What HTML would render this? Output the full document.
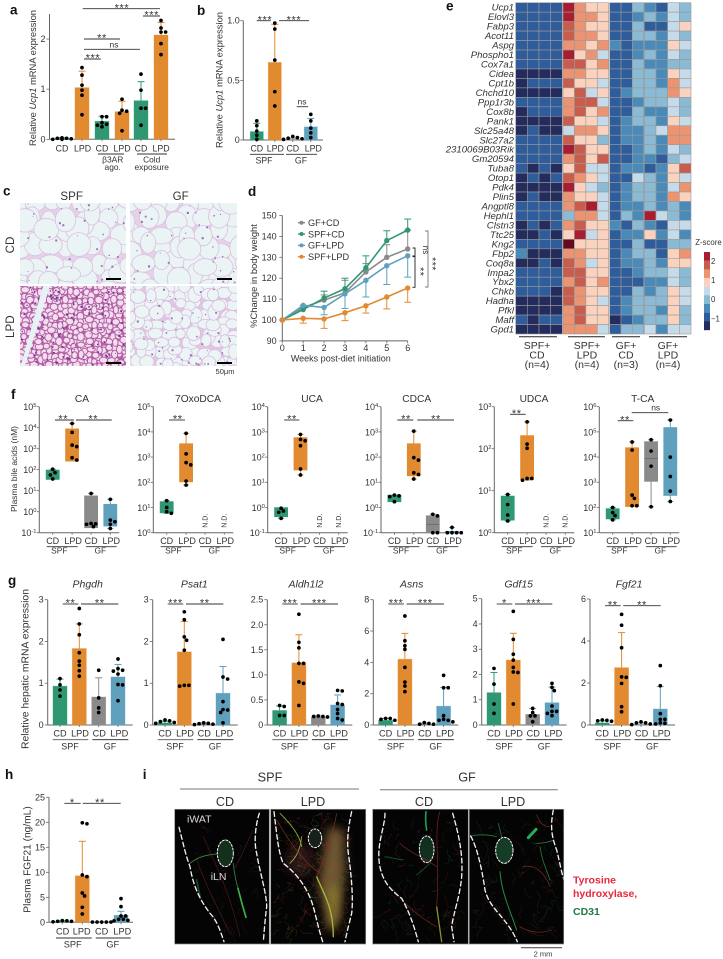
<!DOCTYPE html>
<html lang="en">
<head>
<meta charset="utf-8">
<title>Multi-panel figure: LPD, microbiota and Ucp1 expression</title>
<style>
html,body{margin:0;padding:0;background:#fff;width:723px;height:959px;overflow:hidden}
svg{display:block;font-family:"Liberation Sans",sans-serif}
text{fill:#333}
</style>
</head>
<body>
<svg id="figure" xmlns="http://www.w3.org/2000/svg" width="723" height="959" viewBox="0 0 723 959">
<defs>
<filter id="glow" x="-60%" y="-60%" width="220%" height="220%"><feGaussianBlur stdDeviation="14"/></filter>
<filter id="soft" x="-20%" y="-20%" width="140%" height="140%"><feGaussianBlur stdDeviation="0.35"/></filter>
<clipPath id="clip-i1"><rect x="174.7" y="809.3" width="94.6" height="134.7"/></clipPath>
<clipPath id="clip-i2"><rect x="270.7" y="809.3" width="95" height="134.7"/></clipPath>
<clipPath id="clip-i3"><rect x="372.7" y="809.3" width="95.6" height="134.7"/></clipPath>
<clipPath id="clip-i4"><rect x="469.3" y="809.3" width="94.4" height="134.7"/></clipPath>
<clipPath id="clip-c1"><rect x="20" y="203" width="106" height="81"/></clipPath>
<clipPath id="clip-c2"><rect x="130" y="203" width="107" height="81"/></clipPath>
<clipPath id="clip-c3"><rect x="20" y="286" width="106" height="80"/></clipPath>
<clipPath id="clip-c4"><rect x="130" y="286" width="107" height="80"/></clipPath>
</defs>
<rect width="723" height="959" fill="#fff"/>

<g id="panel-i">
  <g clip-path="url(#clip-i1)">
    <rect x="174.7" y="809.3" width="94.6" height="134.7" fill="#050404"/>
    <g transform="translate(0,720) scale(.33333)" fill="none" stroke-linecap="round">
      <g id="traces-1"></g>
      <ellipse cx="676" cy="400" rx="24" ry="40" fill="#14301c" stroke="none"/>
      <path d="M570,430Q600,405 650,402" stroke="#3f9c48" stroke-width="2.5"/>
      <path d="M700,430Q705,480 716,510" stroke="#2e8a40" stroke-width="2.5"/>
      <path d="M714,505Q725,550 738,592" stroke="#3fb048" stroke-width="5"/>
      <path d="M590,480L600,530" stroke="#184a28" stroke-width="5"/>
      <path d="M610,350C650,440 690,520 720,650M760,330C730,390 720,420 700,450M590,420C620,500 650,560 690,640" stroke="#5e2020" stroke-width="1.6"/>
      <path d="M537,322C550,370 555,400 570,440C580,500 600,540 630,580C650,600 660,630 672,665" stroke="#f2f2f2" stroke-width="4" stroke-dasharray="14 9"/>
      <path d="M778,280C765,320 762,370 770,400C780,460 800,520 800,560C795,600 792,640 790,665" stroke="#f2f2f2" stroke-width="4" stroke-dasharray="14 9"/>
      <ellipse cx="676" cy="400" rx="24" ry="40" stroke="#f5f5f5" stroke-width="3" stroke-dasharray="6 5"/>
    </g>
  </g>
  <g clip-path="url(#clip-i2)">
    <rect x="270.7" y="809.3" width="95" height="134.7" fill="#050404"/>
    <g transform="translate(0,720) scale(.33333)" fill="none" stroke-linecap="round">
      <path d="M985,320L1030,330L1035,450L1020,590L992,640L955,500L970,400Z" fill="#6e5632" filter="url(#glow)"/>
      <path d="M985,500L1015,500L1008,610L992,630Z" fill="#8a7c2c" filter="url(#glow)"/>
      <ellipse cx="900" cy="420" rx="40" ry="50" fill="#2a1414" filter="url(#glow)"/>
      <g id="traces-2"></g>
      <ellipse cx="945" cy="355" rx="20" ry="28" fill="#18201a" stroke="none"/>
      <path d="M840,280C880,320 900,350 905,380M905,350C900,400 880,420 870,430" stroke="#8eb040" stroke-width="2.5"/>
      <path d="M950,470C970,520 1000,560 1000,650" stroke="#a8b83c" stroke-width="4"/>
      <path d="M830,300C860,350 900,420 960,460M1010,280C1000,340 980,400 950,470" stroke="#8a3224" stroke-width="1.8"/>
      <path d="M822,275C830,340 835,400 850,430C890,460 930,510 945,580C955,620 960,640 968,665" stroke="#f2f2f2" stroke-width="4" stroke-dasharray="14 9"/>
      <path d="M1055,275C1045,320 1040,360 1045,400C1055,470 1060,540 1055,580C1045,620 1040,640 1035,665" stroke="#f2f2f2" stroke-width="4" stroke-dasharray="14 9"/>
      <ellipse cx="945" cy="355" rx="20" ry="28" stroke="#f5f5f5" stroke-width="3" stroke-dasharray="6 5"/>
    </g>
  </g>
  <g clip-path="url(#clip-i3)">
    <rect x="372.7" y="809.3" width="95.6" height="134.7" fill="#050404"/>
    <g transform="translate(360,720) scale(.33333)" fill="none" stroke-linecap="round">
      <g id="traces-3"></g>
      <ellipse cx="200" cy="388" rx="22" ry="40" fill="#123020" stroke="none"/>
      <path d="M198,275Q195,300 200,330" stroke="#1f9a50" stroke-width="5"/>
      <path d="M230,560Q240,630 245,665" stroke="#8a9030" stroke-width="4"/>
      <path d="M240,275C220,330 240,420 230,560M120,370C150,400 190,410 230,440M100,510C140,560 190,600 230,620" stroke="#7a2424" stroke-width="2"/>
      <path d="M75,410L130,420M170,465L210,430" stroke="#1e6a38" stroke-width="2"/>
      <path d="M75,280C75,320 50,370 58,430C65,480 90,510 125,535C145,570 160,610 175,665" stroke="#f2f2f2" stroke-width="4" stroke-dasharray="14 9"/>
      <path d="M278,280C295,340 310,400 305,470C300,530 280,580 275,620L282,665" stroke="#f2f2f2" stroke-width="4" stroke-dasharray="14 9"/>
      <ellipse cx="200" cy="388" rx="22" ry="40" stroke="#f5f5f5" stroke-width="3" stroke-dasharray="6 5"/>
    </g>
  </g>
  <g clip-path="url(#clip-i4)">
    <rect x="469.3" y="809.3" width="94.4" height="134.7" fill="#050404"/>
    <g transform="translate(360,720) scale(.33333)" fill="none" stroke-linecap="round">
      <g id="traces-4"></g>
      <ellipse cx="433" cy="391" rx="26" ry="39" fill="#143c26" stroke="none"/>
      <path d="M420,455C425,520 450,570 470,630" stroke="#2a8a48" stroke-width="3"/>
      <path d="M505,353L528,328" stroke="#22b058" stroke-width="9"/>
      <path d="M335,348Q370,340 410,350M415,310L425,350M530,370Q560,370 580,360M540,380C545,420 560,450 570,480" stroke="#267a42" stroke-width="2.4"/>
      <path d="M530,285C540,310 550,320 570,320M490,440C530,430 560,470 570,500M480,620C510,640 550,640 575,630" stroke="#7a2c24" stroke-width="2"/>
      <path d="M332,348C350,380 365,440 375,510C390,570 440,590 472,665" stroke="#f2f2f2" stroke-width="4" stroke-dasharray="14 9"/>
      <path d="M580,270C570,320 575,350 590,390C600,430 605,460 612,480" stroke="#f2f2f2" stroke-width="4" stroke-dasharray="14 9"/>
      <ellipse cx="433" cy="391" rx="26" ry="39" stroke="#f5f5f5" stroke-width="3" stroke-dasharray="6 5"/>
    </g>
  </g>
  <rect x="174.7" y="809.3" width="94.6" height="134.7" fill="none" stroke="#888" stroke-width=".7"/>
  <rect x="270.7" y="809.3" width="95" height="134.7" fill="none" stroke="#888" stroke-width=".7"/>
  <rect x="372.7" y="809.3" width="95.6" height="134.7" fill="none" stroke="#888" stroke-width=".7"/>
  <rect x="469.3" y="809.3" width="94.4" height="134.7" fill="none" stroke="#888" stroke-width=".7"/>
  <text x="187" y="822.7" font-size="10.5" style="fill:#ddd">iWAT</text>
  <text x="210.7" y="880" font-size="10.5" style="fill:#ddd">iLN</text>
  <text x="270" y="781.5" font-size="12.7" text-anchor="middle">SPF</text>
  <line x1="180" y1="789" x2="359" y2="789" stroke="#777" stroke-width="1"/>
  <text x="467" y="781.5" font-size="12.7" text-anchor="middle">GF</text>
  <line x1="380" y1="789.7" x2="557.7" y2="789.7" stroke="#777" stroke-width="1"/>
  <text x="225" y="806" font-size="12.6" text-anchor="middle">CD</text>
  <text x="313" y="806" font-size="12.6" text-anchor="middle">LPD</text>
  <text x="424" y="806" font-size="12.6" text-anchor="middle">CD</text>
  <text x="513" y="806" font-size="12.6" text-anchor="middle">LPD</text>
  <text x="573" y="883.7" font-size="10.5" font-weight="bold" style="fill:#e8283c">Tyrosine</text>
  <text x="573" y="897" font-size="10.5" font-weight="bold" style="fill:#e8283c">hydroxylase,</text>
  <text x="573" y="915" font-size="10.5" font-weight="bold" style="fill:#1f7a46">CD31</text>
  <line x1="521" y1="947.7" x2="562" y2="947.7" stroke="#555" stroke-width="1.2"/>
  <text x="543" y="956.7" font-size="7.5" text-anchor="middle">2 mm</text>
</g>
</svg>

<script>
/* ---------- shared categories ---------- */
const groupCats = ['CD','LPD','CD','LPD'];

/* ---------- panel a ---------- */
const aCats = ['CD','LPD','CD','LPD','CD','LPD'];
const aTicks = [0,1,2];
const aMeans = [0.02,1.03,0.36,0.55,0.77,2.08];
const aUpper = [0.03,1.36,0.46,0.76,1.15,2.33];
const aPoints = [
  [0.02,0.03,0.01,0,0.02,0],
  [1.43,1.28,1.08,0.98,0.88,0.49],
  [0.45,0.45,0.33,0.3,0.28,0.25],
  [0.80,0.56,0.58,0.52,0.17],
  [1.30,0.98,0.62,0.62,0.28],
  [2.37,2.22,2.14,2.14,1.91,1.69]
];

/* ---------- panel b ---------- */
const bTicks = [0,0.5,1.0];
const bMeans = [0.07,0.65,0.005,0.11];
const bUpper = [0.14,0.97,0.015,0.18];
const bPoints = [
  [0.16,0.12,0.075,0.04,0.005],
  [0.98,0.93,0.67,0.405,0.285],
  [0.03,0.02,0.015,0.01,0.005],
  [0.215,0.16,0.1,0.06,0.02]
];

/* ---------- panel d ---------- */
const dWeeks = [0,1,2,3,4,5,6];
const dTicksY = [90,100,110,120,130,140,150];
const dSeriesNames = ['GF+CD','SPF+CD','GF+LPD','SPF+LPD'];
const dGfCd = [100,106,109.5,113,123,130,134];
const dGfCdUpper = [100,107,112,119,127,136,143];
const dSpfCd = [100,105,110.5,115,125,138,143];
const dSpfCdUpper = [100,106,113.8,120,130.7,142.7,148.3];
const dGfLpd = [100,107,106,112.5,119,126,130.7];
const dGfLpdLower = [100,107,102.5,105.5,111,117,120.5];
const dSpfLpd = [100,100.8,100.5,103.5,106.8,111,115.3];
const dSpfLpdLower = [100,98.5,96,99.7,103.3,105.3,108.5];

/* ---------- panel e ---------- */
const heatGenes = ['Ucp1','Elovl3','Fabp3','Acot11','Aspg','Phospho1','Cox7a1','Cidea','Cpt1b','Chchd10','Ppp1r3b','Cox8b','Pank1','Slc25a48','Slc27a2','2310069B03Rik','Gm20594','Tuba8','Otop1','Pdk4','Plin5','Angptl8','Hephl1','Clstn3','Ttc25','Kng2','Fbp2','Coq8a','Impa2','Ybx2','Chkb','Hadha','Pfkl','Maff','Gpd1'];
const heatGroups = ['SPF+ CD (n=4)','SPF+ LPD (n=4)','GF+ CD (n=3)','GF+ LPD (n=4)'];
const heatLegendTicks = ['2','1','0','−1'];
const heatLevels = [
 [1,1,1,1,8,6,5,5,1,1,3,2,1,4,3],
 [1,1,1,1,8,6,6,5,1,1,2,3,2,4,3],
 [1,1,1,1,7,6,5,5,1,1,3,1,1,4,5],
 [1,1,1,1,7,6,6,5,1,1,3,3,2,4,3],
 [1,1,1,1,6,6,5,6,2,1,2,2,2,5,4],
 [1,1,1,1,8,5,6,4,1,1,2,3,2,4,3],
 [1,1,1,1,7,7,5,6,1,1,3,2,2,3,3],
 [0,0,0,0,6,6,5,5,1,1,3,3,2,5,4],
 [0,1,1,1,7,5,5,4,1,1,3,3,2,6,4],
 [0,0,0,0,5,7,4,5,1,2,3,3,3,6,5],
 [1,1,1,1,6,7,7,4,1,1,2,3,3,4,3],
 [0,1,1,1,6,7,5,6,1,1,3,2,2,4,3],
 [0,0,0,0,7,5,5,4,1,2,3,3,2,5,4],
 [0,1,0,0,4,6,6,5,1,2,2,3,4,6,6],
 [1,1,1,1,7,5,5,3,1,2,2,3,2,6,6],
 [1,1,1,1,8,7,5,5,1,1,2,3,2,4,3],
 [1,1,1,1,6,7,5,7,1,1,2,2,1,3,4],
 [1,0,1,0,5,7,4,4,1,2,2,1,2,5,7],
 [0,1,0,1,7,6,5,4,1,1,4,3,2,5,4],
 [0,0,0,0,8,5,4,3,1,2,3,3,2,4,6],
 [0,1,0,0,6,5,5,4,1,2,3,3,2,6,5],
 [1,1,1,1,6,7,8,4,1,2,2,3,2,3,2],
 [1,1,1,1,3,6,6,4,1,3,2,8,4,3,2],
 [0,1,0,1,6,7,5,5,2,1,3,2,1,4,4],
 [0,0,1,0,5,8,4,5,1,2,2,5,2,4,2],
 [1,1,1,1,9,5,5,5,1,1,3,1,1,3,3],
 [2,0,0,0,6,6,5,5,1,2,3,3,1,5,6],
 [0,0,1,0,7,6,4,5,1,2,2,3,2,5,5],
 [1,1,1,1,7,7,5,5,1,1,2,3,3,4,3],
 [1,1,1,1,6,7,5,6,1,1,1,2,2,4,3],
 [1,1,1,0,7,6,5,5,1,1,3,2,3,5,4],
 [0,0,0,0,7,6,5,4,1,2,3,3,3,5,4],
 [0,0,0,0,6,7,5,5,1,2,3,3,2,5,3],
 [1,0,1,1,6,7,5,5,0,1,2,3,3,5,3],
 [0,0,0,0,6,6,6,4,1,3,3,4,2,4,4]
];

/* ---------- panel f (log10 nM) ---------- */
const caTicks = [-1,0,1,2,3,4,5];
const caBoxLow = [1.54,2.41,-0.76,-0.68];
const caBoxHigh = [1.98,3.94,0.75,0.35];
const caPoints = [[2.02,1.86,1.75,1.56],[4.2,3.78,3.17,3.1,2.57,2.46],[0.87,-0.56,-0.58,-0.6,-0.71],[0.59,-0.4,-0.48,-0.6,-0.8]];
const oxoTicks = [0,1,2,3,4,5];
const oxoBoxLow = [0.79,2.02,null,null];
const oxoBoxHigh = [1.23,3.53,null,null];
const oxoPoints = [[1.27,1,0.83,0.77],[3.94,3.13,2.78,2.69,2.05,1.89],[],[]];
const ucaTicks = [-1,0,1,2,3,4];
const ucaBoxLow = [-0.365,1.49,null,null];
const ucaBoxHigh = [-0.008,2.77,null,null];
const ucaPoints = [[-0.03,-0.14,-0.19,-0.43],[2.9,2.7,2.65,2.45,1.53,1.29],[],[]];
const cdcaTicks = [-1,0,1,2,3,4];
const cdcaBoxLow = [0.23,1.26,-1,-1];
const cdcaBoxHigh = [0.49,2.53,-0.33,-0.95];
const cdcaPoints = [[0.49,0.46,0.43,0.23],[3.03,1.98,1.88,1.38,1.31,1.13],[-0.27,-0.33,-1,-1],[-0.79,-1,-1,-1,-1]];
const udcaTicks = [0,1,2,3];
const udcaBoxLow = [0.3,1.27,null,null];
const udcaBoxHigh = [0.87,2.31,null,null];
const udcaPoints = [[0.91,0.67,0.42,0.28],[2.64,2.11,2.01,1.29,1.29,1.25],[],[]];
const tcaTicks = [1,2,3,4,5,6];
const tcaBoxLow = [1.55,2.04,3.04,2.48];
const tcaBoxHigh = [1.95,4.37,4.61,5.17];
const tcaPoints = [[2,1.8,1.68,1.51],[4.6,4.28,2.49,2.36,2.07,2.07],[4.69,4.24,3.64,2.03],[5.47,4,3.23,2.65,2.24]];

/* ---------- panel g ---------- */
const phgdhTicks = [0,1,2,3];
const phgdhMeans = [0.93,1.83,0.67,1.15];
const phgdhUpper = [1.1,2.42,1.13,1.45];
const phgdhPoints = [[1.11,0.96,0.84,0.69],[2.79,2.42,2.16,1.73,1.53,1.43,1.3,1.17],[1.31,0.65,0.41,0.3],[1.58,1.35,1.31,1.29,1.22,0.97,0.96,0.58]];
const psatTicks = [0,1,2,3];
const psatMeans = [0.05,1.75,0.03,0.76];
const psatUpper = [0.09,2.48,0.05,1.4];
const psatPoints = [[0.12,0.1,0.08,0.06,0.04],[2.71,2.52,2.11,2.03,1.79,0.95,0.95,0.93],[0.05,0.04,0.03,0.02,0.01],[2.05,1.15,1.1,0.56,0.37,0.36,0.3,0.05]];
const aldhTicks = [0,0.5,1,1.5,2,2.5];
const aldhMeans = [0.29,1.24,0.16,0.4];
const aldhUpper = [0.38,1.8,0.18,0.6];
const aldhPoints = [[0.39,0.37,0.19,0.19],[2.21,1.65,1.54,1.23,1.23,0.86,0.83,0.39],[0.18,0.17,0.17,0.16],[0.69,0.68,0.43,0.41,0.31,0.23,0.13,0.1]];
const asnsTicks = [0,2,4,6,8];
const asnsMeans = [0.3,4.2,0.06,1.2];
const asnsUpper = [0.42,5.85,0.12,2.4];
const asnsPoints = [[0.42,0.42,0.36,0.3],[6.96,5.38,5.06,4.83,3.68,2.74,2.49,2.13],[0.15,0.1,0.05,0.05],[3.17,2.38,2.38,0.6,0.36,0.3,0.3,0.2]];
const gdfTicks = [0,1,2,3,4,5];
const gdfMeans = [1.28,2.57,0.42,0.88];
const gdfUpper = [2.08,3.63,0.65,1.5];
const gdfPoints = [[2.24,1.62,0.83,0.46],[4.5,3.39,2.8,2.57,2.28,2.1,2.08,0.83],[0.66,0.49,0.36,0.36,0.13],[1.65,1.49,1.36,0.75,0.54,0.54,0.46,0.37]];
const fgfTicks = [0,2,4,6];
const fgfMeans = [0.1,2.73,0.03,0.76];
const fgfUpper = [0.2,4.4,0.1,1.83];
const fgfPoints = [[0.24,0.22,0.2,0.18],[5.27,4.75,3.68,2.29,2.27,1.98,0.87,0.63],[0.15,0.1,0.1,0.05,0.02],[2.83,1.87,0.54,0.27,0.27,0.1,0.08,0.05]];

/* ---------- panel h ---------- */
const hTicks = [0,5,10,15,20,25];
const hMeans = [0.2,9.3,0.05,1.4];
const hUpper = [0.3,16.2,0.05,2.2];
const hPoints = [[0.35,0.3,0.2,0.2,0.1],[19.9,19.7,9.47,9.13,5.87,5.27,3,1.67],[0.05,0.05,0.05,0.05,0.05],[4.73,3.13,1.27,1.27,0.6,0.6,0.4,0.3]];

/* ---------- drawing ---------- */
const NS = 'http://www.w3.org/2000/svg';
const svg = document.getElementById('figure');
const GREEN='#2f9872', ORANGE='#e28a30', GRAY='#8a8a8a', BLUE='#5fa0bd', AXIS='#666';

function add(parent, tag, attrs, name, content){
  const e = document.createElementNS(NS, tag);
  for (const k in attrs) e.setAttribute(k, attrs[k]);
  
  
  if (content !== undefined) e.textContent = content;
  parent.appendChild(e);
  return e;
}
function group(name){ return add(svg,'g',{},name); }
function line(p,x1,y1,x2,y2,stroke,w,name){
  return add(p,'line',{x1,y1,x2,y2,stroke,'stroke-width':w},name);
}
function txt(p,x,y,s,size,anchor,name,extra){
  return add(p,'text',Object.assign({x,y,'font-size':size,'text-anchor':anchor||'middle'},extra||{}),name,s);
}
function rotTxt(p,x,y,parts,size,name){
  const t = add(p,'text',{transform:`translate(${x},${y}) rotate(-90)`,'font-size':size,'text-anchor':'middle'},name);
  parts.forEach(pt=>{
    const s = document.createElementNS(NS,'tspan');
    s.textContent = pt[0];
    if (pt[1]) s.setAttribute('font-style','italic');
    t.appendChild(s);
  });
  return t;
}
function stars(p,cx,cy,s,name,size){
  const fs = size||11;
  return txt(p,cx,cy+fs*0.57,s,fs,'middle',name,{'letter-spacing':'0.6'});
}
function sig(p,x1,x2,y,label,cx,name){
  line(p,x1,y,x2,y,'#333',0.9,name+'-line');
  if (label==='ns') txt(p,cx,y-2,label,8.5,'middle',name+'-label');
  else stars(p,cx,y-3.6,label,name+'-label');
}
function swarm(vals,yf,r){
  const placed=[];
  vals.slice().sort((a,b)=>b-a).forEach(v=>{
    const y=yf(v);
    const steps=[0,1,-1,2,-2,3,-3,4,-4];
    for(const s of steps){
      const x=s*r*1.25;
      if(placed.every(q=>Math.hypot(q.x-x,q.y-y)>=r*1.9)){placed.push({x,y});return;}
    }
    placed.push({x:0,y});
  });
  return placed;
}
function linAxis(y0,yTop,vMax){ return v=>y0-(v/vMax)*(y0-yTop); }

function barChart(o){
  const g=group(o.name);
  const yf=linAxis(o.y0,o.yTop,o.max);
  line(g,o.ax,o.yTop,o.ax,o.y0,AXIS,1,'y-axis');
  line(g,o.ax,o.y0,o.axEnd,o.y0,AXIS,1,'x-axis');
  o.ticks.forEach(t=>{
    line(g,o.ax-3,yf(t),o.ax,yf(t),AXIS,0.8,'y-tick');
    txt(g,o.ax-(o.tickGap||4),yf(t)+3,o.fmt?o.fmt(t):String(t),o.tickSize||9,'end','y-tick-label');
  });
  o.means.forEach((m,i)=>{
    const cx=o.ax+o.offs[i], c=o.colors[i];
    add(g,'rect',{x:cx-o.bw/2,y:yf(m),width:o.bw,height:o.y0-yf(m),fill:c,stroke:c,'stroke-opacity':.45,'stroke-width':.8},'bar-'+o.key+'-'+i);
    line(g,cx,yf(m),cx,yf(o.upper[i]),c,1,'error-bar-'+i);
    line(g,cx-3.5,yf(o.upper[i]),cx+3.5,yf(o.upper[i]),c,1,'error-cap-'+i);
    line(g,cx,o.y0,cx,o.y0+2,AXIS,0.8,'x-tick');
  });
  o.points.forEach((arr,i)=>{
    const cx=o.ax+o.offs[i];
    swarm(arr,yf,1.85).forEach(q=>{
      add(g,'circle',{cx:cx+q.x,cy:q.y,r:1.85,fill:'#000'},'point-'+o.key+'-'+i);
    });
  });
  if(o.cats) o.cats.forEach((c,i)=>{
    txt(g,o.ax+o.labelOffs[i],o.catY,c,o.catSize||9.2,'middle','x-label-'+i);
  });
  return g;
}

/* panel a */
const ga = barChart({name:'panel-a',key:'a',ax:49.5,axEnd:175,y0:139.3,yTop:14,max:2.5,ticks:aTicks,means:aMeans,upper:aUpper,points:aPoints,
  offs:[12.5,32.5,52.5,72.5,91.5,111.5],bw:14,colors:[GREEN,ORANGE,GREEN,ORANGE,GREEN,ORANGE],
  cats:aCats,labelOffs:[12.5,33,52.5,72.5,91.5,111.5],catY:151.7,catSize:8.8});
rotTxt(ga,36,78,[['Relative '],['Ucp1',1],[' mRNA expression']],9.4,'y-axis-title');
sig(ga,82.7,160,8.7,'***',122,'sig-a1');
sig(ga,143,160,16,'***',151.7,'sig-a2');
sig(ga,84,120,39,'**',102,'sig-a3');
sig(ga,84,140,49.3,'ns',114,'sig-a4');
sig(ga,84,100.7,59,'***',93,'sig-a5');
line(ga,98,154,124,154,'#333',.9,'group-line-b3ar');
line(ga,137,154,167,154,'#333',.9,'group-line-cold');
txt(ga,112.7,162.3,'β3AR',8.4,'middle','group-label-b3ar');
txt(ga,112.7,170,'ago.',8.4,'middle','group-label-ago');
txt(ga,151.7,162.3,'Cold',8.4,'middle','group-label-cold');
txt(ga,151.7,170,'exposure',8.4,'middle','group-label-exposure');

/* panel b */
const gb = barChart({name:'panel-b',key:'b',ax:243.3,axEnd:323,y0:140,yTop:20.7,max:1,ticks:bTicks,means:bMeans,upper:bUpper,points:bPoints,
  offs:[13.5,31.5,49.5,67.5],bw:13,colors:[GREEN,ORANGE,GRAY,BLUE],fmt:t=>t===0?'0':t.toFixed(1),tickGap:3.5,
  cats:groupCats,labelOffs:[13.5,32,49.5,70],catY:151.7,catSize:8.8});
rotTxt(gb,222.7,80,[['Relative '],['Ucp1',1],[' mRNA expression']],9.4,'y-axis-title');
sig(gb,256.7,270.7,20.7,'***',265,'sig-b1');
sig(gb,279,309,20.7,'***',294,'sig-b2');
sig(gb,296.7,308,106.7,'ns',302,'sig-b3');
line(gb,250,154.3,284,154.3,'#333',.9,'group-line-spf');
line(gb,286,154.3,317,154.3,'#333',.9,'group-line-gf');
txt(gb,264,163.3,'SPF',8.8,'middle','group-label-spf');
txt(gb,301,163.3,'GF',8.8,'middle','group-label-gf');

/* panel letters */
[['a',10,14.5],['b',197,15],['c',3,195.7],['d',248,196],['e',446,10.7],['f',11,399],['g',8,585],['h',5,779],['i',142.7,779]].forEach(l=>{
  const t=txt(svg,l[1],l[2],l[0],13.5,'start','panel-letter-'+l[0],{'font-weight':'bold'});
  t.style.fill='#111';
});

/* panel c histology (decorative tissue texture) */
function rng(seed){let s=seed;return ()=>{s=(s*16807)%2147483647;return s/2147483647;};}
function histo(name,clip,x,y,w,h,cell,seed,bg,cellFill,stroke,sw,blobs,blobColor){
  const g=add(svg,'g',{'clip-path':`url(#${clip})`},name), r=rng(seed);
  add(g,'rect',{x,y,width:w,height:h,fill:bg},'tissue-background');
  const cells=[];
  for(let j=0;j<=Math.ceil(h/cell);j++)for(let i=0;i<=Math.ceil(w/cell);i++){
    cells.push({k:r(),cx:x+i*cell+(r()-.5)*cell*.7,cy:y+j*cell+(r()-.5)*cell*.7,rx:cell*(.5+r()*.35),ry:cell*(.5+r()*.35)});
  }
  cells.sort((a,b)=>a.k-b.k).forEach(c=>{
    add(g,'ellipse',{cx:c.cx.toFixed(1),cy:c.cy.toFixed(1),rx:c.rx.toFixed(1),ry:c.ry.toFixed(1),fill:cellFill,stroke,'stroke-width':sw},'adipocyte');
  });
  let b='';
  for(let k=0;k<blobs;k++){
    const bx=x+r()*(w-2),by=y+r()*(h-2),bs=.8+r()*1.3;
    b+=`M${bx.toFixed(1)},${by.toFixed(1)}h${bs.toFixed(1)}v${bs.toFixed(1)}h-${bs.toFixed(1)}z`;
  }
  add(g,'path',{d:b,fill:blobColor,filter:'url(#soft)'},'nuclei');
  return g;
}
histo('histology-spf-cd','clip-c1',20,203,106,81,15,11,'#e6d2e8','#eaf4f5','#ddbfe0',.8,32,'#9a70b8');
histo('histology-gf-cd','clip-c2',130,203,107,81,15,27,'#e6d2e8','#eaf4f5','#ddbfe0',.8,32,'#9a70b8');
const lpdGroup=histo('histology-spf-lpd','clip-c3',20,286,106,80,5,53,'#b65fa6','#f1dfee','#b65fa6',1,170,'#74348f');
add(lpdGroup,'polygon',{points:'43,286 50,286 25,366 20.7,366',fill:'#e6f2f3'},'tissue-tear');
histo('histology-gf-lpd','clip-c4',130,286,107,80,9.5,71,'#e0c8e2','#ecf5f5','#dcbcdf',.8,55,'#9a70b8');
const gc=group('panel-c-labels');
txt(gc,71.7,200,'SPF',11.6,'middle','column-label-spf');
txt(gc,180.7,200,'GF',11.6,'middle','column-label-gf');
rotTxt(gc,14,245,[['CD']],11.6,'row-label-cd');
rotTxt(gc,14,326.7,[['LPD']],11.6,'row-label-lpd');
[[106,278],[217,278],[106,362],[217,362]].forEach(s=>{
  add(gc,'rect',{x:s[0],y:s[1],width:15,height:2,fill:'#000'},'scale-bar');
});
txt(gc,225,374,'50μm',7.5,'middle','scale-label-50um');

/* panel d */
const gd=group('panel-d');
const xW=w=>282.3+20.9*w, yP=v=>320-(v-100)*2.09;
line(gd,xW(0),yP(150),xW(0),yP(90),AXIS,1,'y-axis');
line(gd,xW(0),yP(90),xW(6),yP(90),AXIS,1,'x-axis');
dTicksY.forEach(t=>{
  line(gd,xW(0)-3,yP(t),xW(0),yP(t),AXIS,.8,'y-tick');
  txt(gd,276.7,yP(t)+3,String(t),9,'end','y-tick-label');
});
dWeeks.forEach(w=>{
  line(gd,xW(w),yP(90),xW(w),yP(90)+2.5,AXIS,.8,'x-tick');
  txt(gd,xW(w),351,String(w),9,'middle','x-tick-label');
});
rotTxt(gd,257,276,[['%Change in body weight']],9.4,'y-axis-title');
txt(gd,340.8,361.7,'Weeks post-diet initiation',9,'middle','x-axis-title');
const dColors=[GRAY,GREEN,BLUE,ORANGE];
function dSeries(vals,err,c,key){
  const g=add(gd,'g',{},'series-'+key);
  vals.forEach((v,i)=>{
    if(err[i]!==v){
      line(g,xW(dWeeks[i]),yP(v),xW(dWeeks[i]),yP(err[i]),c,1,'error-bar');
      line(g,xW(dWeeks[i])-3.5,yP(err[i]),xW(dWeeks[i])+3.5,yP(err[i]),c,1,'error-cap');
    }
  });
  add(g,'polyline',{points:vals.map((v,i)=>xW(dWeeks[i])+','+yP(v)).join(' '),fill:'none',stroke:c,'stroke-width':1.6},'series-line');
  vals.forEach((v,i)=>{
    add(g,'circle',{cx:xW(dWeeks[i]),cy:yP(v),r:2.7,fill:c},'series-point');
  });
}
dSeries(dGfCd,dGfCdUpper,GRAY,'gf-cd');
dSeries(dSpfCd,dSpfCdUpper,GREEN,'spf-cd');
dSeries(dGfLpd,dGfLpdLower,BLUE,'gf-lpd');
dSeries(dSpfLpd,dSpfLpdLower,ORANGE,'spf-lpd');
dSeriesNames.forEach((n,i)=>{
  const ly=222.7+i*11.35;
  const g=add(gd,'g',{},'legend-entry-'+n.toLowerCase().replace('+','-'));
  line(g,298,ly,305,ly,dColors[i],1.4,'legend-line');
  add(g,'circle',{cx:301.5,cy:ly,r:2,fill:dColors[i]},'legend-marker');
  txt(g,308,ly+3.2,n,9.2,'start','legend-label');
});
function bracket(p,x,y1,y2,c,name,t){
  add(p,'path',{d:`M${x-t},${y1}H${x}V${y2}H${x-t}`,fill:'none',stroke:c,'stroke-width':.9},name);
}
bracket(gd,415,248,256,'#222','bracket-ns',2.5);
bracket(gd,415,256.7,287.3,'#222','bracket-double-star',2.5);
bracket(gd,428,231,287,'#777','bracket-triple-star',3);
add(gd,'text',{transform:'translate(423,250) rotate(90)','font-size':8,'text-anchor':'middle'},'sig-ns','ns');
add(gd,'text',{transform:'translate(417,271.7) rotate(90)','font-size':10.5,'text-anchor':'middle','letter-spacing':'.5'},'sig-double-star','**');
add(gd,'text',{transform:'translate(429,264) rotate(90)','font-size':10.5,'text-anchor':'middle','letter-spacing':'.5'},'sig-triple-star','***');

/* panel e */
const ge=group('panel-e');
const heatPalette=['#232c5c','#2f5c9a','#4a8ab8','#8bbad4','#c6dbe9','#fbd2bd','#ec9372','#c85c4d','#a81d30','#640a1e'];
const hmTop=2.7, hmRow=9.466;
const hmCols=[{n:4,x0:515.7,x1:562.3},{n:4,x0:563,x1:608.7},{n:3,x0:609.7,x1:643.7},{n:4,x0:644.3,x1:691}];
function hmX(col){
  let c=col;
  for(const b of hmCols){ if(c<b.n) return {x:b.x0+c*(b.x1-b.x0)/b.n,w:(b.x1-b.x0)/b.n}; c-=b.n; }
}
heatLevels.forEach((row,r)=>{
  const y=hmTop+r*hmRow;
  txt(ge,514,y+hmRow/2+3.3,heatGenes[r],9.6,'end','gene-label',{'font-style':'italic'});
  row.forEach((lv,c)=>{
    const p=hmX(c);
    const idx=Math.max(0,Math.min(9,Math.round(lv)));
    add(ge,'rect',{x:p.x,y,width:p.w,height:hmRow,fill:heatPalette[idx],stroke:'#9a9a9a','stroke-width':.6},'heat-cell');
  });
});
[[519,557,537],[568,605,587],[612,640,626],[649,687,668]].forEach((l,i)=>{
  line(ge,l[0],336.7,l[1],336.7,'#222',1,'group-line');
  const parts=heatGroups[i].split(' ');
  txt(ge,l[2],349,parts[0],10.5,'middle','group-label');
  txt(ge,l[2],358.6,parts[1],10.5,'middle','group-label');
  txt(ge,l[2],368,parts[2],10.5,'middle','group-label');
});
txt(ge,708.5,245,'Z-score',7.8,'middle','z-score-title');
for(let i=0;i<9;i++){
  add(ge,'rect',{x:704,y:252+i*8.67,width:6,height:8.8,fill:heatPalette[8-i]},'z-score-swatch');
}
heatLegendTicks.forEach((t,i)=>{
  txt(ge,711,264+i*19.1,t,7.8,'start','z-score-tick');
});

/* panel f */
function logChart(o){
  const g=group(o.name);
  const yb=532.7, yt=406.7, lo=o.ticks[0], hi=o.ticks[o.ticks.length-1];
  const yf=v=>yb-(v-lo)/(hi-lo)*(yb-yt);
  const ax=o.ax, offs=[13.4,32.8,51.8,71];
  const colors=[GREEN,ORANGE,GRAY,BLUE];
  line(g,ax,yt,ax,yb,AXIS,1,'y-axis');
  line(g,ax,yb,ax+80,yb,AXIS,1,'x-axis');
  o.ticks.forEach(t=>{
    line(g,ax-2.5,yf(t),ax,yf(t),AXIS,.8,'y-tick');
    const lab=add(g,'text',{x:ax-2.8,y:yf(t)+3.4,'font-size':9,'text-anchor':'end'},'y-tick-label');
    const a=document.createElementNS(NS,'tspan'); a.textContent='10'; lab.appendChild(a);
    const b=document.createElementNS(NS,'tspan'); b.textContent=String(t);
    b.setAttribute('dy','-3'); b.setAttribute('font-size','5.8'); lab.appendChild(b);
  });
  txt(g,o.titleX,402,o.title,10.2,'middle','chart-title');
  groupCats.forEach((c,i)=>{
    line(g,ax+offs[i],yb,ax+offs[i],yb+2,AXIS,.8,'x-tick');
    txt(g,ax+offs[i]+(i%2?1:0),544,c,9,'middle','x-label-'+i);
    const pts=o.points[i];
    if(!pts.length){
      add(g,'text',{transform:`translate(${ax+offs[i]+2.3},520.7) rotate(-90)`,'font-size':7,'text-anchor':'middle'},'not-detected','N.D.');
      return;
    }
    const mn=Math.min(...pts), mx=Math.max(...pts), cx=ax+offs[i], col=colors[i];
    const sorted=pts.slice().sort((p,q)=>p-q);
    const med=(sorted[Math.floor((sorted.length-1)/2)]+sorted[Math.ceil((sorted.length-1)/2)])/2;
    line(g,cx,yf(mx),cx,yf(mn),col,1,'whisker-'+i);
    line(g,cx-3,yf(mx),cx+3,yf(mx),col,1,'whisker-cap-'+i);
    line(g,cx-3,yf(mn),cx+3,yf(mn),col,1,'whisker-cap-'+i);
    add(g,'rect',{x:cx-6.5,y:yf(o.high[i]),width:13,height:Math.max(.5,yf(o.low[i])-yf(o.high[i])),fill:col,stroke:col,'stroke-width':.8},'box-'+o.key+'-'+i);
    if(i===2) line(g,cx-6.5,yf(med),cx+6.5,yf(med),'rgba(0,0,0,.3)',.7,'median-'+i);
    swarm(pts,yf,1.85).forEach(q=>{
      add(g,'circle',{cx:cx+q.x,cy:q.y,r:1.85,fill:'#000'},'point-'+o.key+'-'+i);
    });
  });
  line(g,ax+7.4,546.7,ax+38.4,546.7,'#333',.9,'group-line-spf');
  line(g,ax+46.7,546.7,ax+77.4,546.7,'#333',.9,'group-line-gf');
  txt(g,ax+20,553.5,'SPF',8.4,'middle','group-label-spf');
  txt(g,ax+61,553.5,'GF',8.4,'middle','group-label-gf');
  return g;
}
const gCA=logChart({name:'panel-f-ca',key:'ca',ax:39.3,title:'CA',titleX:82,ticks:caTicks,low:caBoxLow,high:caBoxHigh,points:caPoints});
rotTxt(gCA,17,469,[['Plasma bile acids (nM)']],8.5,'y-axis-title');
sig(gCA,55,74,420,'**',63.3,'sig-ca1');
sig(gCA,76,111.7,420,'**',93.3,'sig-ca2');
const gOxo=logChart({name:'panel-f-7oxodca',key:'oxo',ax:153.3,title:'7OxoDCA',titleX:198,ticks:oxoTicks,low:oxoBoxLow,high:oxoBoxHigh,points:oxoPoints});
sig(gOxo,169,185,420,'**',177.7,'sig-oxo');
const gUca=logChart({name:'panel-f-uca',key:'uca',ax:267.7,title:'UCA',titleX:312,ticks:ucaTicks,low:ucaBoxLow,high:ucaBoxHigh,points:ucaPoints});
sig(gUca,284,299.3,420,'**',292,'sig-uca');
const gCdca=logChart({name:'panel-f-cdca',key:'cdca',ax:381,title:'CDCA',titleX:416.7,ticks:cdcaTicks,low:cdcaBoxLow,high:cdcaBoxHigh,points:cdcaPoints});
sig(gCdca,397.3,413.3,420,'**',406,'sig-cdca1');
sig(gCdca,417.3,454,420,'**',436,'sig-cdca2');
const gUdca=logChart({name:'panel-f-udca',key:'udca',ax:494.3,title:'UDCA',titleX:534,ticks:udcaTicks,low:udcaBoxLow,high:udcaBoxHigh,points:udcaPoints});
sig(gUdca,510,525.7,414.3,'**',516.7,'sig-udca');
const gTca=logChart({name:'panel-f-tca',key:'tca',ax:599.3,title:'T-CA',titleX:642.7,ticks:tcaTicks,low:tcaBoxLow,high:tcaBoxHigh,points:tcaPoints});
sig(gTca,617.7,633.3,420.7,'**',625,'sig-tca1');
sig(gTca,631.7,668.3,412.7,'ns',655.7,'sig-tca2');

/* panel g */
function geneChart(o){
  const ax=o.ax, offs=[12.3,31.6,51,70.3];
  const g=barChart({name:o.name,key:o.key,ax,axEnd:ax+85,y0:725,yTop:o.top||599.7,max:o.max,ticks:o.ticks,means:o.means,upper:o.upper,points:o.points,
    offs,bw:14,colors:[GREEN,ORANGE,GRAY,BLUE],fmt:o.fmt,
    cats:groupCats,labelOffs:[12.3,32.3,51.6,71.6],catY:736.7});
  txt(g,ax+o.titleOff,587.7,o.title,10.5,'middle','chart-title',{'font-style':'italic'});
  const sy=o.sigY||604;
  sig(g,ax+15,ax+30.6,sy,o.sig[0],ax+22.8,'sig-'+o.key+'1');
  sig(g,ax+33.3,ax+70.6,sy,o.sig[1],ax+52,'sig-'+o.key+'2');
  line(g,ax+5,739.7,ax+40.6,739.7,'#555',.9,'group-line-spf');
  line(g,ax+44.6,739.7,ax+80.6,739.7,'#222',.9,'group-line-gf');
  txt(g,ax+22.3,749.3,'SPF',9,'middle','group-label-spf');
  txt(g,ax+62.3,749.3,'GF',9,'middle','group-label-gf');
  return g;
}
const gPh=geneChart({name:'panel-g-phgdh',key:'phgdh',ax:47.7,title:'Phgdh',titleOff:40,max:3,ticks:phgdhTicks,means:phgdhMeans,upper:phgdhUpper,points:phgdhPoints,sig:['**','**']});
rotTxt(gPh,28.3,669,[['Relative hepatic mRNA expression']],10.4,'y-axis-title');
geneChart({name:'panel-g-psat1',key:'psat',ax:152.7,title:'Psat1',titleOff:41.6,max:3,ticks:psatTicks,means:psatMeans,upper:psatUpper,points:psatPoints,sig:['***','**']});
geneChart({name:'panel-g-aldh1l2',key:'aldh',ax:267.3,title:'Aldh1l2',titleOff:38.7,max:2.5,ticks:aldhTicks,means:aldhMeans,upper:aldhUpper,points:aldhPoints,sig:['***','***'],fmt:t=>t===0?'0':t.toFixed(1)});
geneChart({name:'panel-g-asns',key:'asns',ax:373.3,title:'Asns',titleOff:38.4,max:8,ticks:asnsTicks,means:asnsMeans,upper:asnsUpper,points:asnsPoints,sig:['***','***']});
geneChart({name:'panel-g-gdf15',key:'gdf',ax:481.7,top:598.7,title:'Gdf15',titleOff:37,max:5,ticks:gdfTicks,means:gdfMeans,upper:gdfUpper,points:gdfPoints,sig:['*','***']});
geneChart({name:'panel-g-fgf21',key:'fgf',ax:590,top:599,title:'Fgf21',titleOff:39,max:6,ticks:fgfTicks,means:fgfMeans,upper:fgfUpper,points:fgfPoints,sig:['**','**'],sigY:605.7});

/* panel h */
const gh=barChart({name:'panel-h',key:'h',ax:49,axEnd:133,y0:922.3,yTop:797.3,max:25,ticks:hTicks,means:hMeans,upper:hUpper,points:hPoints,
  offs:[13.3,33.3,52.7,72],bw:14,colors:[GREEN,ORANGE,GRAY,BLUE],
  cats:groupCats,labelOffs:[13.7,32.7,52.7,73.3],catY:934.3});
rotTxt(gh,30.7,859.5,[['Plasma FGF21 (ng/mL)']],10.2,'y-axis-title');
sig(gh,64.3,80.7,803.3,'*',72.3,'sig-h1');
sig(gh,82.7,120.7,803.3,'**',100,'sig-h2');
line(gh,56,938,91.7,938,'#333',.9,'group-line-spf');
line(gh,95.7,938,130.7,938,'#333',.9,'group-line-gf');
txt(gh,72.7,947.3,'SPF',9.2,'middle','group-label-spf');
txt(gh,112.7,947.3,'GF',9.2,'middle','group-label-gf');

/* panel i: decorative fine fibres */
function fibres(id,seed,x0,x1,y0,y1,n,red,green){
  const host=document.getElementById(id), r=rng(seed);
  let a='',b='';
  for(let i=0;i<n;i++){
    let x=x0+r()*(x1-x0),y=y0+r()*(y1-y0),s=`M${x.toFixed(0)},${y.toFixed(0)}`;
    for(let k=0;k<3;k++){x+=(r()-.5)*34;y+=(r()-.25)*26;s+=`L${x.toFixed(0)},${y.toFixed(0)}`;}
    if(r()<.66)a+=s;else b+=s;
  }
  add(host,'path',{d:a,stroke:red,'stroke-width':1.1,opacity:.6},'fibres-th');
  add(host,'path',{d:b,stroke:green,'stroke-width':1.1,opacity:.5},'fibres-cd31');
}
fibres('traces-1',101,590,780,300,650,40,'#5e1e1e','#1c4e2a');
fibres('traces-2',202,830,1050,280,650,150,'#a03a28','#4a8a3a');
fibres('traces-3',303,70,295,290,650,80,'#7a2222','#1f6a38');
fibres('traces-4',404,345,605,290,650,80,'#6e2a22','#1f7a40');
</script>
</body>
</html>
